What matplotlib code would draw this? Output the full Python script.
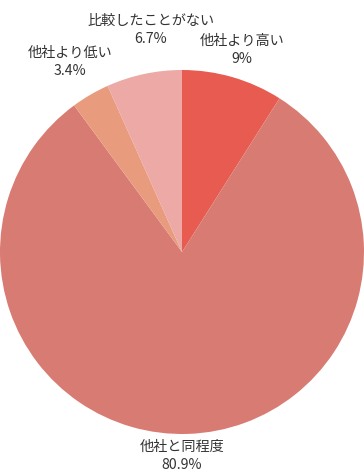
import matplotlib
matplotlib.use("Agg")
import matplotlib.pyplot as plt

plt.rcParams['font.family'] = ['Noto Sans CJK JP', 'DejaVu Sans']

categories = ["他社より高い", "他社と同程度", "他社より低い", "比較したことがない"]
values = [9.0, 80.9, 3.4, 6.7]
value_labels = ["9%", "80.9%", "3.4%", "6.7%"]
colors = ["#e85b50", "#d87b72", "#e89b7d", "#eca9a5"]

# label centres (axes data units, pie radius = 1)
label_pos = [(0.33, 1.11), (0.0, -1.12), (-0.615, 1.045), (-0.17, 1.22)]

fig = plt.figure(figsize=(3.64, 4.74), dpi=100)
ax = fig.add_axes([0, 0, 1, 1])

ax.pie(values, colors=colors, startangle=90, counterclock=False,
       radius=1.0, wedgeprops=dict(linewidth=0))

for cat, lab, (x, y) in zip(categories, value_labels, label_pos):
    ax.text(x, y, cat + "\n" + lab, ha="center", va="center",
            fontsize=10.2, color="#333333", linespacing=1.35)

ax.set_xlim(-1, 1)
ax.set_ylim(-222 / 182, 252 / 182)
ax.set_aspect("auto")
ax.axis("off")

fig.savefig("out.png", dpi=100)
